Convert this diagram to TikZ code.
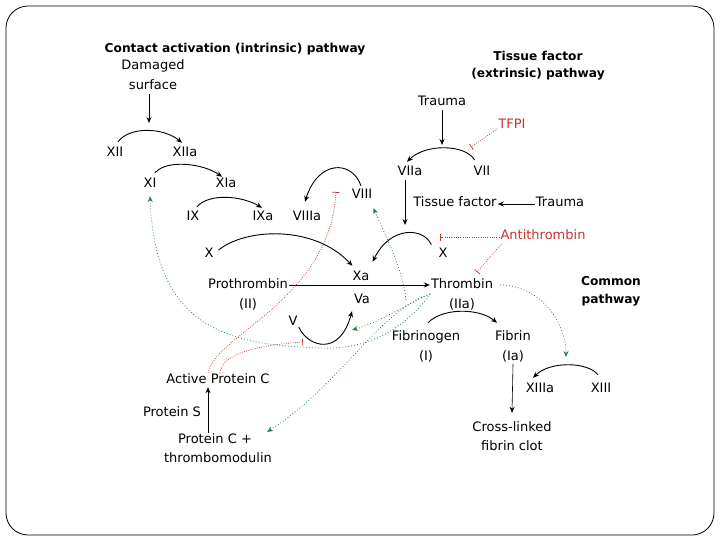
\documentclass[tikz,border=0pt]{standalone}
\usepackage{fontspec}
\setmainfont{DejaVu Sans}
\usetikzlibrary{arrows.meta}

\definecolor{inhred}{RGB}{196,52,52}
\definecolor{actgreen}{RGB}{32,132,72}

\tikzset{
	fac/.style={font=\fontsize{13}{15}\selectfont, inner sep=1pt, text height=9pt, text depth=3pt},
	hdr/.style={font=\fontsize{12.2}{14}\selectfont\bfseries, inner sep=1pt},
	conv/.style={line width=0.9pt, -{Stealth[length=6pt,width=5pt]}},
	feed/.style={actgreen, line width=0.8pt, dash pattern=on 0.8pt off 2.2pt, -{Stealth[length=6pt,width=5pt]}},
	block/.style={inhred, line width=0.75pt, dash pattern=on 0.75pt off 1.5pt, -{Bar[width=7pt]}}
}

\begin{document}
\begin{tikzpicture}[x=1pt, y=-1pt]
	\useasboundingbox (0,0) rectangle (720,540);
	\draw[line width=0.8pt, rounded corners=22pt] (6,6) rectangle (714,535);
	
	% headings
	\node[hdr] (intr) at (235,49) {Contact activation (intrinsic) pathway};
	\node[hdr] (extr1) at (538,56) {Tissue factor};
	\node[hdr] (extr2) at (538,74) {(extrinsic) pathway};
	\node[hdr] (comm1) at (611,281) {Common};
	\node[hdr] (comm2) at (611,300) {pathway};
	
	% intrinsic pathway
	\node[fac] (dmg1) at (153,67) {Damaged};
	\node[fac] (dmg2) at (153,87) {surface};
	\node[fac] (xii) at (115,154) {XII};
	\node[fac] (xiia) at (185,154) {XIIa};
	\node[fac] (xi) at (150,185) {XI};
	\node[fac] (xia) at (226,185) {XIa};
	\node[fac] (ix) at (193,218) {IX};
	\node[fac] (ixa) at (263,218) {IXa};
	\node[fac] (viiia) at (307,218) {VIIIa};
	\node[fac] (viii) at (362,196) {VIII};
	
	% extrinsic pathway
	\node[fac] (tr1) at (442,103) {Trauma};
	\node[fac, text=inhred] (tfpi) at (512,126) {TFPI};
	\node[fac] (viia) at (410,173) {VIIa};
	\node[fac] (vii) at (482,173) {VII};
	\node[fac] (tf) at (455,204) {Tissue factor};
	\node[fac] (tr2) at (560,204) {Trauma};
	\node[fac] (xr) at (443,254) {X};
	\node[fac, text=inhred] (anti) at (543,237) {Antithrombin};
	
	% common pathway
	\node[fac] (xl) at (209,254) {X};
	\node[fac] (xa) at (361,277) {Xa};
	\node[fac] (va) at (362,300) {Va};
	\node[fac] (pro) at (248,285) {Prothrombin};
	\node[fac] (proii) at (248,305) {(II)};
	\node[fac] (thr) at (462,285) {Thrombin};
	\node[fac] (thrii) at (462,305) {(IIa)};
	\node[fac] (v) at (293,322) {V};
	\node[fac] (fbg) at (426,337) {Fibrinogen};
	\node[fac] (fbgi) at (426,357) {(I)};
	\node[fac] (fbn) at (513,337) {Fibrin};
	\node[fac] (fbni) at (513,357) {(Ia)};
	\node[fac] (xiiia) at (540,389) {XIIIa};
	\node[fac] (xiii) at (601,389) {XIII};
	\node[fac] (clot1) at (512,428) {Cross-linked};
	\node[fac] (clot2) at (512,447) {fibrin clot};
	
	% protein C
	\node[fac] (apc) at (218,380) {Active Protein C};
	\node[fac] (ps) at (172,413) {Protein S};
	\node[fac] (pc1) at (215,440) {Protein C +};
	\node[fac] (pc2) at (218,459) {thrombomodulin};
	
	% free ends
	\coordinate (dmgend) at (149,123);
	\coordinate (trend) at (442,145);
	\coordinate (tfend) at (405,225);
	\coordinate (tfpibar) at (471,147);
	\coordinate (antibar1) at (440,237);
	\coordinate (antibar2) at (477,272);
	\coordinate (viiibar) at (336,192);
	\coordinate (vbar) at (303,342);
	\coordinate (hub) at (430,294);
	\coordinate (hub2) at (406,300);
	\coordinate (gmid) at (322,348);
	\coordinate (vaend) at (352,330);
	\coordinate (xiiiend) at (566,357);
	
	% straight arrows
	\draw[conv] ([xshift=-4pt]dmg2.south) -- (dmgend);
	\draw[conv] (tr1.south) -- (trend);
	\draw[conv] ([xshift=-5pt]viia.south) -- (tfend);
	\draw[conv] (tr2.west) -- (tf.east);
	\draw[conv] (pro.east) -- (thr.west);
	\draw[line width=0.6pt, -{Stealth[length=6pt,width=5pt]}] (fbni.south) -- ([yshift=8pt]clot1.north);
	\draw[line width=0.6pt, -{Stealth[length=6pt,width=5pt]}] ([xshift=-7pt]pc1.north) -- ([xshift=-10pt]apc.south);
	
	% activation arcs
	\draw[conv] ([xshift=3pt,yshift=5pt]xii.north) .. controls +(12,-16) and +(-18,-15) .. ([xshift=-3pt,yshift=4pt]xiia.north);
	\draw[conv] ([xshift=5pt,yshift=5pt]xi.north) .. controls +(12,-14) and +(-18,-13) .. ([xshift=-4pt,yshift=1pt]xia.north);
	\draw[conv] ([xshift=4pt,yshift=4pt]ix.north) .. controls +(12,-14) and +(-20,-12) .. ([xshift=-1pt,yshift=3pt]ixa.north);
	\draw[conv] ([xshift=-1pt,yshift=3pt]viii.north) .. controls +(-9,-26) and +(13,-42) .. ([xshift=-2pt,yshift=9pt]viiia.north);
	\draw[conv] ([xshift=4pt,yshift=4pt]xl.east) .. controls +(27,-22) and +(-38,-41) .. ([xshift=1pt,yshift=4pt]xa.north west);
	\draw[conv] ([xshift=-6pt,yshift=2pt]xr.north west) .. controls +(-7,-17) and +(18,-37) .. ([xshift=2pt,yshift=8pt]xa.north east);
	\draw[conv] ([xshift=2pt,yshift=6pt]vii.north west) .. controls +(-10,-16) and +(18,-18) .. ([xshift=-3pt,yshift=4pt]viia.north);
	\draw[conv] ([yshift=-5pt]v.east) .. controls +(10,21) and +(-12,45) .. ([xshift=-10pt,yshift=-4pt]va.south);
	\draw[conv] ([xshift=2pt,yshift=7pt]fbg.north) .. controls +(14,-15) and +(-18,-15) .. ([xshift=-16pt,yshift=7pt]fbn.north);
	\draw[conv] ([xshift=-3pt,yshift=7pt]xiii.north) .. controls +(-10,-13) and +(17,-17) .. ([xshift=-7pt,yshift=4pt]xiiia.north);
	
	% inhibition
	\draw[block] ([yshift=-3pt]tfpi.west) -- (tfpibar);
	\draw[block] (anti.west) -- (antibar1);
	\draw[block] ([xshift=2pt]anti.south west) -- (antibar2);
	\draw[block] ([xshift=-10pt]apc.north) .. controls +(7,-38) and +(-6,108) .. (viiibar);
	\draw[block] ([xshift=2pt]apc.north) .. controls +(2,-20) and +(-43,3) .. (vbar);
	
	% thrombin feedback
	\draw[feed] ([xshift=6pt]thr.east) .. controls +(38,0) and +(0,-37) .. (xiiiend);
	\draw[feed] (hub2) .. controls +(-3,-30) and +(12,27) .. ([yshift=-5pt]viii.south east);
	\draw[feed] (hub) .. controls +(-25,11) and +(28,-8) .. (vaend);
	\draw[feed] (hub) .. controls +(-50,16) and +(73,-47) .. ([xshift=14pt,yshift=8pt]pc1.east);
	\draw[feed] (hub) .. controls +(-25,36) and +(43,2) .. (gmid) .. controls +(-92,-3) and +(5,134) .. ([yshift=-4pt]xi.south);
\end{tikzpicture}
\end{document}
